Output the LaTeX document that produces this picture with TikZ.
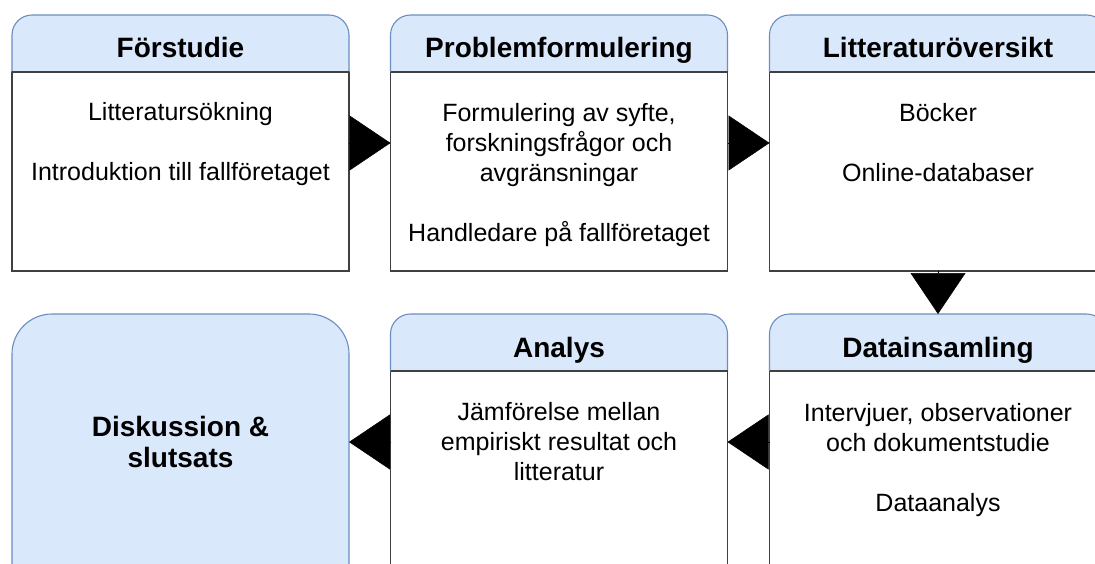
\documentclass[tikz,border=0pt]{standalone}
\usepackage{fontspec}
\setmainfont{Liberation Sans}
\usetikzlibrary{arrows.meta}
\definecolor{hdrfill}{HTML}{DAE8FC}
\definecolor{hdrline}{HTML}{6C8EBF}
\definecolor{bodyline}{HTML}{404040}
\tikzset{
  stagebox/.style={minimum width=337pt,minimum height=256pt,inner sep=0pt,outer sep=0pt},
  hdrpath/.style={draw=hdrline,fill=hdrfill,line width=1.1pt},
  bodypath/.style={draw=bodyline,fill=white,line width=1.1pt},
  hdrtext/.style={font=\fontsize{28}{34}\selectfont\bfseries,inner sep=0pt,anchor=base},
  bodytext/.style={font=\fontsize{25}{30}\selectfont,align=center,inner sep=0pt},
  endtext/.style={font=\fontsize{28}{31}\selectfont\bfseries,align=center,inner sep=0pt},
  flow/.style={line width=0.5pt,-{Triangle[length=41pt,width=55pt]}}
}
\begin{document}
\begin{tikzpicture}[x=1pt,y=-1pt]
\useasboundingbox (0,0) rectangle (1095,563);
\clip (0,0) rectangle (1095,563);
% stage frames
\node[stagebox] (f) at (180.5,143) {};
\node[stagebox] (p) at (559,143) {};
\node[stagebox] (l) at (938,143) {};
\node[stagebox] (d) at (938,442) {};
\node[stagebox] (a) at (559,442) {};
\node[stagebox] (s) at (180.5,442) {};
% boxes with header
\foreach \b in {f,p,l,d,a}{
  \path[bodypath] ([yshift=-57pt]\b.north west) rectangle (\b.south east);
  \path[hdrpath] ([yshift=-57pt]\b.north west) [rounded corners=20pt] -- (\b.north west) -- (\b.north east) [sharp corners] -- ([yshift=-57pt]\b.north east);
  \draw[draw=bodyline,line width=1.1pt] ([yshift=-57pt]\b.north west) -- ([yshift=-57pt]\b.north east);
}
% final box
\path[draw=hdrline,fill=hdrfill,line width=1.1pt,rounded corners=40pt] (s.south west) -- (s.north west) -- (s.north east) -- (s.south east);
% header texts
\node[hdrtext] (fh) at (180.5,57.5) {Förstudie};
\node[hdrtext] (ph) at (559,57.5) {Problemformulering};
\node[hdrtext] (lh) at (938,57.5) {Litteraturöversikt};
\node[hdrtext] (dh) at (938,357) {Datainsamling};
\node[hdrtext] (ah) at (559,357) {Analys};
% body texts
\node[bodytext] (ft) at (180.5,144) {Litteratursökning\\[30pt]Introduktion till fallföretaget};
\node[bodytext] (pt) at (559,175) {Formulering av syfte,\\forskningsfrågor och\\avgränsningar\\[30pt]Handledare på fallföretaget};
\node[bodytext] (lt) at (938,143) {Böcker\\[30pt]Online-databaser};
\node[bodytext] (dt) at (938,460) {Intervjuer, observationer\\och dokumentstudie\\[30pt]Dataanalys};
\node[bodytext] (at) at (559,442) {Jämförelse mellan\\empiriskt resultat och\\litteratur};
\node[endtext] (st) at (180.5,442) {Diskussion \&\\slutsats};
% connectors
\draw[flow] (f.east) -- (p.west);
\draw[flow] (p.east) -- (l.west);
\draw[flow] (l.south) -- (d.north);
\draw[flow] (d.west) -- (a.east);
\draw[flow] (a.west) -- (s.east);
\end{tikzpicture}
\end{document}
